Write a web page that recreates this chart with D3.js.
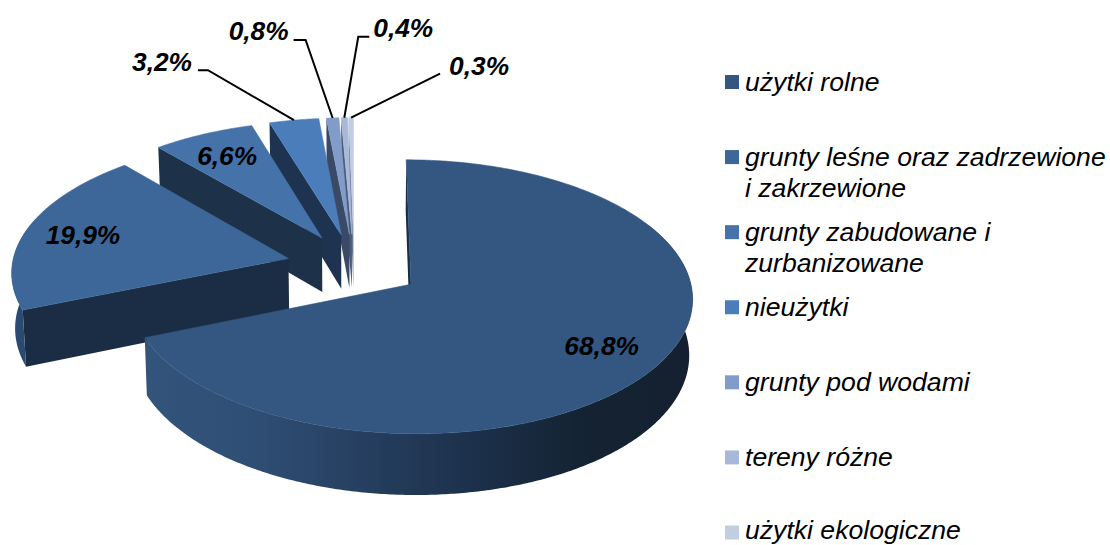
<!DOCTYPE html>
<html lang="pl">
<head>
    <meta charset="UTF-8">
    <title>struktura gruntów</title>
    <script src="https://d3js.org/d3.v7.min.js"></script>
    <style>
        body { margin: 0; background: #fff; }
        svg { display: block; }
        text { font-family: "Liberation Sans", Arial, sans-serif; font-style: italic; fill: #000; }
        .value { font-size: 26.3px; font-weight: bold; }
        .legend-label { font-size: 26.6px; }
        .leader { fill: none; stroke: #000; stroke-width: 2; }
    </style>
</head>
<body>
    <div id="chart"></div>
    <script>
        // data
        const categories = [
            ['użytki rolne'],
            ['grunty leśne oraz zadrzewione', 'i zakrzewione'],
            ['grunty zabudowane i', 'zurbanizowane'],
            ['nieużytki'],
            ['grunty pod wodami'],
            ['tereny różne'],
            ['użytki ekologiczne']
        ]
        const shares = [68.8, 19.9, 6.6, 3.2, 0.8, 0.4, 0.3]
        const valueLabels = ['68,8%', '19,9%', '6,6%', '3,2%', '0,8%', '0,4%', '0,3%']

        // styles
        const topColors = ['#345781', '#3d6798', '#4572a9', '#4b7dba', '#819cc8', '#a8b9d7', '#c1cde1']
        const wallColors = ['#1b2d45', '#1b2d45', '#1d3149', '#1e334f', '#3a4a66', '#4a5a78', '#6a7a96']

        const WIDTH = 1110
        const HEIGHT = 545

        // pie "camera": centre, radii, perspective, extrusion, explosion
        const CX = 354
        const CY = 266
        const RX = 276.5
        const RY = 132.5
        const PERSPECTIVE = 0.09
        const DEPTH = 55
        const BOTTOM_SHRINK = 0.99
        const EXPLODE = 0.245

        const pie = d3.pie().sort(null).value(d => d)
        const slices = pie(shares)
        const color = d3.scaleOrdinal(d3.range(shares.length), topColors)
        const wall = d3.scaleOrdinal(d3.range(shares.length), wallColors)
        const line = d3.line()

        const project = (u, v, bottom) => {
            const s = 1 / (1 - PERSPECTIVE * v)
            const x = CX + RX * u * s * (bottom ? BOTTOM_SHRINK : 1)
            const y = CY + RY * v * s + (bottom ? DEPTH * s : 0)
            return [x, y]
        }

        // point on a slice, at pie angle a and radius r, exploded along its bisector
        const slicePoint = (d, a, r, bottom) => {
            const mid = (d.startAngle + d.endAngle) / 2
            const u = EXPLODE * Math.sin(mid) + r * Math.sin(a)
            const v = -EXPLODE * Math.cos(mid) - r * Math.cos(a)
            return project(u, v, bottom)
        }

        const arcAngles = (a0, a1) => {
            const n = Math.max(2, Math.ceil((a1 - a0) / 0.01))
            return d3.range(n + 1).map(i => a0 + (a1 - a0) * i / n)
        }

        const topPath = d => line([
            slicePoint(d, 0, 0),
            ...arcAngles(d.startAngle, d.endAngle).map(a => slicePoint(d, a, 1))
        ]) + 'Z'

        const startWallPath = d => line([
            slicePoint(d, 0, 0),
            slicePoint(d, d.startAngle, 1),
            slicePoint(d, d.startAngle, 1, true),
            slicePoint(d, 0, 0, true)
        ]) + 'Z'

        // front part of the rim only, a bit past the silhouette on both sides
        const FRONT_FROM = Math.PI * 0.35
        const FRONT_TO = Math.PI * 1.6
        const rimPath = d => {
            const a0 = Math.max(d.startAngle, FRONT_FROM)
            const a1 = Math.min(d.endAngle, FRONT_TO)
            if (a1 <= a0) return null
            const angles = arcAngles(a0, a1)
            return line([
                ...angles.map(a => slicePoint(d, a, 1)),
                ...angles.slice().reverse().map(a => slicePoint(d, a, 1, true))
            ]) + 'Z'
        }

        const svg = d3.select('#chart').append('svg')
            .attr('width', WIDTH)
            .attr('height', HEIGHT)
            .attr('viewBox', [0, 0, WIDTH, HEIGHT])

        // rim shading
        const defs = svg.append('defs')
        const rimStops = [
            ['#33547b', '#2f4e74', '#263f60', '#1c304a', '#142333', '#14202f'],
            ['#2f5078', '#2b4a70', '#2b4a70', '#2b4a70', '#2b4a70', '#2b4a70']
        ]
        rimStops.forEach((stops, i) => {
            const grad = defs.append('linearGradient').attr('id', `rim-${i}`)
            grad.selectAll('stop').data(stops).enter().append('stop')
                .attr('offset', (d, j) => j / (stops.length - 1))
                .attr('stop-color', d => d)
        })

        // back to front: the small slices first, the big one last
        const pieGroup = svg.append('g').attr('class', 'pie')
        const groups = pieGroup.selectAll('g')
            .data(slices.slice().reverse()).enter()
            .append('g')

        groups.append('path')
            .attr('d', startWallPath)
            .attr('fill', d => wall(d.index))
        groups.append('path')
            .attr('d', rimPath)
            .attr('fill', d => d.index < 2 ? `url(#rim-${d.index})` : wall(d.index))
        // thin stroke closes the antialias seam against the walls
        groups.append('path')
            .attr('d', topPath)
            .attr('fill', d => color(d.index))
            .attr('stroke', d => color(d.index))
            .attr('stroke-width', 0.6)

        // values inside the slices
        const insideRadius = { 0: 0.778, 1: 0.785, 2: 0.785 }
        svg.append('g').selectAll('text')
            .data(slices.filter(d => d.index in insideRadius)).enter()
            .append('text')
            .attr('class', 'value')
            .attr('text-anchor', 'middle')
            .attr('dy', '0.36em')
            .attr('transform', d => {
                const mid = (d.startAngle + d.endAngle) / 2
                return `translate(${slicePoint(d, mid, insideRadius[d.index])})`
            })
            .text(d => valueLabels[d.index])

        // leader lines: offsets from the rim point to the elbow and to the line end
        const leaders = {
            3: { elbow: [-86, -50], end: [-96, -50], label: [-102, -59], anchor: 'end' },
            4: { elbow: [-27, -78], end: [-39, -78], label: [-44, -87], anchor: 'end' },
            5: { elbow: [14, -81], end: [25, -81], label: [29, -90], anchor: 'start' },
            6: { elbow: [89, -44], end: [89, -44], label: [98, -52], anchor: 'start' }
        }
        const outside = slices.filter(d => d.index in leaders)
        const rimMid = d => slicePoint(d, (d.startAngle + d.endAngle) / 2, 1)
        const shift = (p, o) => [p[0] + o[0], p[1] + o[1]]

        svg.append('g').selectAll('path')
            .data(outside).enter()
            .append('path')
            .attr('class', 'leader')
            .attr('d', d => {
                const p = rimMid(d)
                const l = leaders[d.index]
                return line([p, shift(p, l.elbow), shift(p, l.end)])
            })

        svg.append('g').selectAll('text')
            .data(outside).enter()
            .append('text')
            .attr('class', 'value')
            .attr('text-anchor', d => leaders[d.index].anchor)
            .attr('dy', '0.36em')
            .attr('transform', d => `translate(${shift(rimMid(d), leaders[d.index].label)})`)
            .text(d => valueLabels[d.index])

        // legend
        const legendY = d3.scalePoint(d3.range(categories.length), [75, 525.5])
        const legend = svg.append('g').attr('class', 'legend')
            .selectAll('g')
            .data(categories).enter()
            .append('g')
            .attr('transform', (d, i) => `translate(725,${legendY(i)})`)

        legend.append('rect')
            .attr('width', 14)
            .attr('height', 14)
            .attr('fill', (d, i) => color(i))

        // last entry sits on the page edge, keep its descenders in
        legend.append('text')
            .attr('class', 'legend-label')
            .attr('transform', (d, i) => `translate(0,${Math.min(15.7, HEIGHT - 6.2 - legendY(i))})`)
            .selectAll('tspan')
            .data(d => d).enter()
            .append('tspan')
            .attr('x', 20)
            .attr('y', (d, i) => i * 31)
            .text(d => d)
    </script>
</body>
</html>
